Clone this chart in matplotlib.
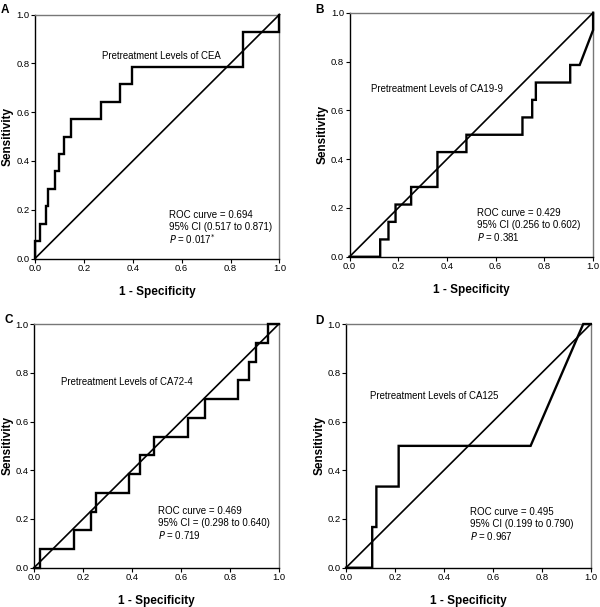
import matplotlib
matplotlib.use("Agg")
import matplotlib.pyplot as plt

plt.rcParams['font.family'] = ['Liberation Sans', 'DejaVu Sans']

# ROC step curves (1 - specificity, sensitivity)
cea_fpr = [0.0, 0.0, 0.022, 0.022, 0.045, 0.045, 0.053, 0.053, 0.083, 0.083, 0.100, 0.100,
           0.120, 0.120, 0.147, 0.147, 0.270, 0.270, 0.348, 0.348, 0.398, 0.398,
           0.850, 0.850, 1.0, 1.0]
cea_tpr = [0.0, 0.071, 0.071, 0.143, 0.143, 0.214, 0.214, 0.286, 0.286, 0.357, 0.357, 0.429,
           0.429, 0.500, 0.500, 0.571, 0.571, 0.643, 0.643, 0.714, 0.714, 0.786,
           0.786, 0.929, 0.929, 1.0]

ca199_fpr = [0.0, 0.126, 0.126, 0.160, 0.160, 0.189, 0.189, 0.253, 0.253, 0.361, 0.361,
             0.480, 0.480, 0.710, 0.710, 0.750, 0.750, 0.765, 0.765, 0.906, 0.906,
             0.945, 1.0, 1.0]
ca199_tpr = [0.0, 0.0, 0.071, 0.071, 0.143, 0.143, 0.214, 0.214, 0.286, 0.286, 0.429,
             0.429, 0.500, 0.500, 0.571, 0.571, 0.643, 0.643, 0.714, 0.714, 0.786,
             0.786, 0.929, 1.0]

ca724_fpr = [0.0, 0.025, 0.025, 0.163, 0.163, 0.234, 0.234, 0.252, 0.252, 0.389, 0.389,
             0.431, 0.431, 0.490, 0.490, 0.630, 0.630, 0.700, 0.700, 0.835, 0.835,
             0.877, 0.877, 0.905, 0.905, 0.957, 0.957, 1.0]
ca724_tpr = [0.0, 0.0, 0.077, 0.077, 0.154, 0.154, 0.229, 0.229, 0.308, 0.308, 0.385,
             0.385, 0.462, 0.462, 0.538, 0.538, 0.615, 0.615, 0.692, 0.692, 0.769,
             0.769, 0.846, 0.846, 0.923, 0.923, 1.0, 1.0]

ca125_fpr = [0.0, 0.107, 0.107, 0.124, 0.124, 0.215, 0.215, 0.754, 0.969, 1.0]
ca125_tpr = [0.0, 0.0, 0.167, 0.167, 0.333, 0.333, 0.500, 0.500, 1.0, 1.0]

panel_letters = ["A", "B", "C", "D"]
markers = ["CEA", "CA19-9", "CA72-4", "CA125"]
roc_auc = ["0.694", "0.429", "0.469", "0.495"]
ci_text = ["95% CI (0.517 to 0.871)", "95% CI (0.256 to 0.602)",
           "95% CI = (0.298 to 0.640)", "95% CI (0.199 to 0.790)"]
p_values = ["0.017$^{*}$", "0.381", "0.719", "0.967"]

curves = [(cea_fpr, cea_tpr), (ca199_fpr, ca199_tpr),
          (ca724_fpr, ca724_tpr), (ca125_fpr, ca125_tpr)]

# layout (figure fractions) and text anchors (data coords)
axes_pos = [[0.0583, 0.5741, 0.4075, 0.402],
            [0.5825, 0.5770, 0.4060, 0.402],
            [0.0567, 0.0647, 0.4080, 0.4015],
            [0.5767, 0.0647, 0.4080, 0.4015]]
title_xy = [(0.273, 0.83), (0.089, 0.686), (0.109, 0.763), (0.098, 0.703)]
stats_xy = [(0.548, 0.178), (0.525, 0.178), (0.506, 0.233), (0.506, 0.228)]
letter_xy = [(0.002, 0.993), (0.526, 0.993), (0.007, 0.483), (0.526, 0.481)]

fig = plt.figure(figsize=(6.0, 6.07), dpi=100)

for i in range(4):
    ax = fig.add_axes(axes_pos[i])
    fpr, tpr = curves[i]
    ax.plot([0, 1], [0, 1], color="black", lw=1.2, clip_on=False, zorder=3)
    ax.plot(fpr, tpr, color="black", lw=1.7, clip_on=False, zorder=4,
            solid_joinstyle="miter")
    ax.set_xlim(0, 1)
    ax.set_ylim(0, 1)
    ticks = [0.0, 0.2, 0.4, 0.6, 0.8, 1.0]
    ax.set_xticks(ticks)
    ax.set_yticks(ticks)
    ax.set_xticklabels(["%.1f" % t for t in ticks])
    ax.set_yticklabels(["%.1f" % t for t in ticks])
    ax.tick_params(direction="out", length=3, width=0.8, labelsize=6.8,
                   pad=1.0, colors="black")
    for s in ["left", "bottom"]:
        ax.spines[s].set_color("black")
        ax.spines[s].set_linewidth(1.0)
    for s in ["top", "right"]:
        ax.spines[s].set_color("#777777")
        ax.spines[s].set_linewidth(1.0)
    ax.set_xlabel("1 - Specificity", fontsize=8.5, fontweight="bold", labelpad=9)
    ax.set_ylabel("Sensitivity", fontsize=8.5, fontweight="bold", labelpad=1.5)

    ax.text(title_xy[i][0], title_xy[i][1], "Pretreatment Levels of " + markers[i],
            fontsize=6.9, va="center", ha="left")
    sx, sy = stats_xy[i]
    ax.text(sx, sy, "ROC curve = " + roc_auc[i], fontsize=7.0, va="center")
    ax.text(sx, sy - 0.049, ci_text[i], fontsize=7.0, va="center")
    ax.text(sx, sy - 0.097, "$\\it{P}$ = " + p_values[i], fontsize=7.0, va="center")

    fig.text(letter_xy[i][0], letter_xy[i][1], panel_letters[i], fontsize=8.5,
             fontweight="bold", va="top", ha="left")

fig.savefig("out.png", dpi=100, facecolor="white")
